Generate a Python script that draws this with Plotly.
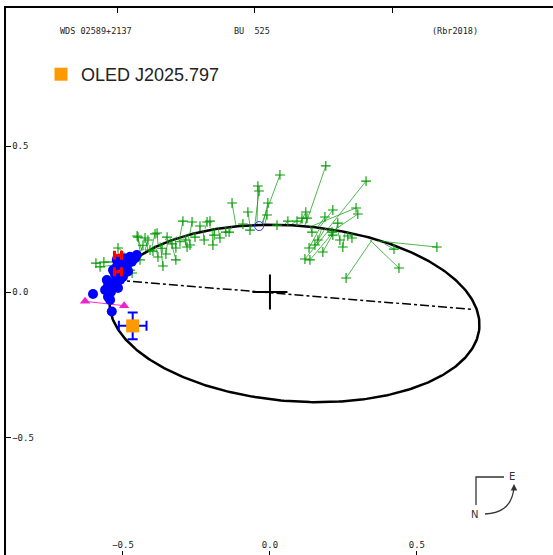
import numpy as np
import plotly.graph_objects as go

# ---------------- data ----------------
# orbit (apparent ellipse) parameters, arcsec
orbit_center = (0.0833, -0.0736)
orbit_axes = (0.631, 0.3007)
orbit_tilt_deg = -4.5
# line of apsides (periastron -> apastron)
apsides_x = [-0.527, 0.694]
apsides_y = [0.041, -0.060]

# green micrometer observations and their predicted positions
green_x = [-0.592, -0.578, -0.565, -0.514, -0.476, -0.442, -0.449, -0.415, -0.408, -0.391,
           -0.381, -0.364, -0.350, -0.320, -0.296, -0.282, -0.265, -0.255, -0.286, -0.272,
           -0.214, -0.204, -0.194, -0.170, -0.150, -0.139, -0.129, -0.075, -0.068, -0.041,
           -0.037, -0.007, -0.010, 0.034, 0.024, 0.061, 0.092, 0.122, 0.126, 0.143,
           0.190, 0.187, 0.214, 0.214, 0.327, 0.293, 0.299, 0.231, 0.211, 0.238,
           0.279, 0.248, 0.153, 0.133, 0.180, 0.119, 0.136, 0.259, 0.439, 0.568,
           0.422, -0.517, -0.452, -0.425, -0.384, -0.469, -0.354, -0.320, -0.238, -0.224,
           -0.190, -0.092, 0.109, 0.265, 0.163, -0.432, -0.398, -0.367, -0.333, -0.306]
green_y = [0.099, 0.086, 0.103, 0.116, 0.075, 0.110, 0.188, 0.178, 0.144, 0.199,
           0.120, 0.089, 0.188, 0.110, 0.243, 0.154, 0.240, 0.188, 0.178, 0.161,
           0.240, 0.243, 0.161, 0.185, 0.205, 0.205, 0.305, 0.274, 0.212, 0.363,
           0.346, 0.305, 0.264, 0.401, 0.229, 0.243, 0.243, 0.274, 0.253, 0.205,
           0.432, 0.257, 0.281, 0.195, 0.380, 0.288, 0.267, 0.236, 0.205, 0.178,
           0.185, 0.154, 0.161, 0.151, 0.137, 0.113, 0.110, 0.048, 0.082, 0.154,
           0.147, 0.151, 0.192, 0.185, 0.202, 0.065, 0.130, 0.151, 0.226, 0.178,
           0.195, 0.233, 0.253, 0.192, 0.178, 0.160, 0.140, 0.150, 0.165, 0.172]
green_pred_x = [-0.517, -0.510, -0.503, -0.490, -0.483, -0.459, -0.442, -0.425, -0.418, -0.401,
                -0.391, -0.374, -0.357, -0.340, -0.306, -0.296, -0.272, -0.262, -0.289, -0.279,
                -0.221, -0.204, -0.197, -0.177, -0.153, -0.129, -0.116, -0.068, -0.061, -0.044,
                -0.051, -0.024, -0.017, -0.027, 0.017, 0.051, 0.075, 0.102, 0.119, 0.136,
                0.122, 0.163, 0.170, 0.187, 0.197, 0.143, 0.218, 0.224, 0.204, 0.231,
                0.272, 0.255, 0.187, 0.170, 0.221, 0.204, 0.221, 0.347, 0.340, 0.367,
                0.391, -0.476, -0.435, -0.415, -0.381, -0.476, -0.347, -0.323, -0.238, -0.228,
                -0.187, -0.102, 0.109, 0.262, 0.177, -0.440, -0.410, -0.380, -0.350, -0.318]
green_pred_y = [0.103, 0.096, 0.106, 0.113, 0.116, 0.127, 0.137, 0.144, 0.147, 0.158,
                0.161, 0.171, 0.178, 0.185, 0.192, 0.192, 0.202, 0.202, 0.195, 0.199,
                0.216, 0.219, 0.219, 0.223, 0.223, 0.226, 0.229, 0.229, 0.233, 0.233,
                0.233, 0.233, 0.233, 0.236, 0.233, 0.233, 0.233, 0.233, 0.229, 0.226,
                0.233, 0.223, 0.223, 0.219, 0.216, 0.226, 0.212, 0.209, 0.216, 0.209,
                0.199, 0.202, 0.216, 0.219, 0.212, 0.216, 0.212, 0.178, 0.178, 0.175,
                0.164, 0.120, 0.140, 0.147, 0.164, 0.120, 0.181, 0.188, 0.209, 0.212,
                0.219, 0.229, 0.233, 0.202, 0.219, 0.140, 0.152, 0.166, 0.178, 0.190]

# blue interferometric observations
blue_x = [-0.602, -0.538, -0.555, -0.561, -0.551, -0.534, -0.521, -0.500, -0.476, -0.459,
          -0.487, -0.500, -0.534, -0.544, -0.510, -0.483, -0.470, -0.453, -0.517, -0.541,
          -0.551, -0.520, -0.503, -0.490, -0.527]
blue_y = [-0.007, -0.067, 0.041, 0.007, -0.016, 0.075, 0.110, 0.116, 0.121, 0.116,
          0.087, 0.052, 0.031, -0.027, 0.041, 0.070, 0.104, 0.127, 0.014, 0.000,
          0.021, 0.089, 0.103, 0.095, 0.060]

# red measurements
red_x = [-0.517, -0.517]
red_y = [0.126, 0.069]

# magenta triangles
pink_x = [-0.629, -0.496]
pink_y = [-0.032, -0.047]

# predicted position (open circle)
pred_x = [-0.037]
pred_y = [0.226]

# latest measurement
oled_x = [-0.467]
oled_y = [-0.116]
oled_err_x = [0.047]
oled_err_y = [0.046]

tick_vals = [-0.5, 0.0, 0.5]
tick_text = ["\u22120.5", "0.0", "0.5"]
top_tick_vals = [-0.52, -0.051, 0.418]

# ---------------- layout helpers ----------------
W, H = 553, 555
ML, MT = 6, 8
PW, PH = W - ML, H - MT


def px(xp):
    return (xp - ML) / PW


def py(yp):
    return (H - yp) / PH


fig = go.Figure()

# orbit ellipse
t = np.linspace(0, 2 * np.pi, 400)
th = np.deg2rad(orbit_tilt_deg)
ex = orbit_center[0] + orbit_axes[0] * np.cos(t) * np.cos(th) - orbit_axes[1] * np.sin(t) * np.sin(th)
ey = orbit_center[1] + orbit_axes[0] * np.cos(t) * np.sin(th) + orbit_axes[1] * np.sin(t) * np.cos(th)
fig.add_trace(go.Scatter(x=ex, y=ey, mode="lines", line=dict(color="black", width=2.5),
                         showlegend=False, hoverinfo="skip"))

# line of apsides
fig.add_trace(go.Scatter(x=apsides_x, y=apsides_y, mode="lines",
                         line=dict(color="black", width=1.5, dash="dashdot"),
                         showlegend=False, hoverinfo="skip"))

# residual lines for green
lx, ly = [], []
for ox, oy, qx, qy in zip(green_x, green_y, green_pred_x, green_pred_y):
    lx += [ox, qx, None]
    ly += [oy, qy, None]
fig.add_trace(go.Scatter(x=lx, y=ly, mode="lines", line=dict(color="rgba(20,160,20,0.75)", width=1),
                         showlegend=False, hoverinfo="skip"))
fig.add_trace(go.Scatter(x=green_x, y=green_y, mode="markers",
                         marker=dict(symbol="cross-thin", size=7, line=dict(color="#009a00", width=1.1)),
                         showlegend=False))

# pink
fig.add_trace(go.Scatter(x=pink_x, y=pink_y, mode="lines+markers",
                         line=dict(color="#ff30d0", width=1),
                         marker=dict(symbol="triangle-up", size=9, color="#ee22cc"),
                         showlegend=False))

# blue points
fig.add_trace(go.Scatter(x=blue_x, y=blue_y, mode="markers",
                         marker=dict(symbol="circle", size=10, color="#0000ff"),
                         showlegend=False))

# red H
fig.add_trace(go.Scatter(x=red_x, y=red_y, mode="markers",
                         marker=dict(size=3, color="red"),
                         error_x=dict(type="constant", value=0.012, color="red", thickness=3, width=4.5),
                         showlegend=False))

# predicted position
fig.add_trace(go.Scatter(x=pred_x, y=pred_y, mode="markers",
                         marker=dict(symbol="circle-open", size=9, color="#3333ff", line=dict(width=1)),
                         showlegend=False))

# primary
fig.add_trace(go.Scatter(x=[0], y=[0], mode="markers",
                         marker=dict(symbol="cross-thin", size=25, line=dict(color="black", width=2)),
                         showlegend=False))

# latest measurement
fig.add_trace(go.Scatter(x=oled_x, y=oled_y, mode="markers", name="OLED J2025.797",
                         marker=dict(symbol="square", size=13, color="#ff9900"),
                         error_x=dict(type="data", array=oled_err_x, color="#0000ff", thickness=2, width=5),
                         error_y=dict(type="data", array=oled_err_y, color="#0000ff", thickness=2, width=5),
                         showlegend=True))

mono = "DejaVu Sans Mono"

annotations = [
    dict(text="WDS 02589+2137", x=px(58), y=py(31)),
    dict(text="BU\u00a0\u00a0525", x=px(232), y=py(31)),
    dict(text="(Rbr2018)", x=px(430), y=py(31)),
]
annotations = [dict(a, xref="paper", yref="paper", xanchor="left", yanchor="middle",
                    showarrow=False, font=dict(family=mono, size=8.5, color="#222")) for a in annotations]
annotations += [
    dict(text="E", x=px(512), y=py(476), xref="paper", yref="paper", showarrow=False,
         xanchor="center", yanchor="middle",
         font=dict(family="DejaVu Sans", size=10, color="#333")),
    dict(text="N", x=px(474), y=py(514), xref="paper", yref="paper", showarrow=False,
         xanchor="center", yanchor="middle",
         font=dict(family="DejaVu Sans", size=10, color="#333")),
    dict(text="", x=px(514), y=py(484), xref="paper", yref="paper", showarrow=True,
         ax=0, ay=7, arrowhead=2, arrowsize=1, arrowwidth=1.3, arrowcolor="#333", standoff=0),
]

shapes = [
    dict(type="path", xref="paper", yref="paper",
         path=f"M {px(504)},{py(477)} L {px(476)},{py(477)} L {px(476)},{py(505)}",
         line=dict(color="#333", width=1.3)),
    dict(type="path", xref="paper", yref="paper",
         path=f"M {px(485)},{py(514)} Q {px(512)},{py(513)} {px(514)},{py(487)}",
         line=dict(color="#333", width=1.3)),
]

fig.update_layout(
    width=W, height=H,
    margin=dict(l=ML, r=0, t=MT, b=0, autoexpand=False),
    paper_bgcolor="white", plot_bgcolor="white",
    xaxis=dict(range=[-0.898, 0.963], showgrid=False, zeroline=False, showline=False,
               tickvals=tick_vals, ticktext=tick_text, ticks="inside", ticklen=4,
               tickcolor="black", ticklabelposition="inside",
               tickfont=dict(family=mono, size=9, color="#222")),
    xaxis2=dict(range=[-0.898, 0.963], overlaying="x", side="top", showgrid=False,
                zeroline=False, showline=True, linecolor="black", linewidth=2,
                tickvals=top_tick_vals, ticks="inside", ticklen=5, tickcolor="black",
                showticklabels=False),
    yaxis=dict(range=[-0.901, 0.973], showgrid=False, zeroline=False, showline=True,
               linecolor="black", linewidth=2,
               tickvals=tick_vals, ticktext=tick_text, ticks="inside", ticklen=5,
               tickcolor="black", ticklabelposition="inside",
               tickfont=dict(family=mono, size=9, color="#222")),
    legend=dict(x=px(41), y=py(56), xanchor="left", yanchor="top",
                font=dict(family="Liberation Sans", size=18, color="#222"),
                bgcolor="rgba(0,0,0,0)", itemsizing="trace"),
    annotations=annotations,
    shapes=shapes,
)

# dummy trace to activate xaxis2
fig.add_trace(go.Scatter(x=[None], y=[None], xaxis="x2", showlegend=False))

fig.write_html("out.html")
